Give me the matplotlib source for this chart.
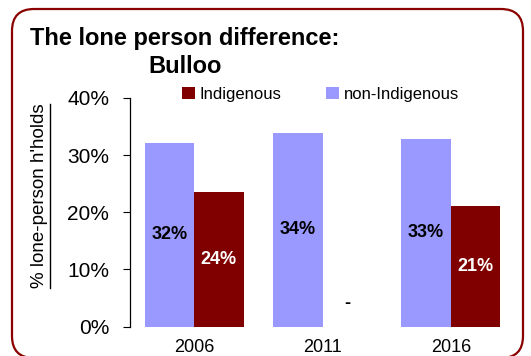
import numpy as np
import matplotlib
matplotlib.use("Agg")
import matplotlib.pyplot as plt
from matplotlib.patches import FancyBboxPatch
from matplotlib.lines import Line2D
from matplotlib.transforms import IdentityTransform

plt.rcParams['font.family'] = ['Liberation Sans', 'DejaVu Sans']

years = ['2006', '2011', '2016']
non_indig = [0.321, 0.339, 0.328]
indig = [0.236, None, 0.211]

c_non = '#9999FF'
c_ind = '#800000'

fig = plt.figure(figsize=(5.31, 3.56), dpi=100)
ax = fig.add_axes([130 / 531, 1 - 326.5 / 356, 385 / 531, 228.5 / 356])

x = np.arange(len(years))
w = 0.386
ax.bar(x - w / 2, non_indig, w, color=c_non, label='non-Indigenous')
ind_vals = [v if v is not None else 0 for v in indig]
ax.bar(x + w / 2, ind_vals, w, color=c_ind, label='Indigenous')

# value labels in the middle of each bar
for i, v in enumerate(non_indig):
    ax.text(x[i] - w / 2, v / 2, '%d%%' % round(v * 100), ha='center', va='center',
            fontsize=13, fontweight='bold', color='black')
for i, v in enumerate(indig):
    if v is None:
        ax.text(x[i] + w / 2, 0.04, '-', ha='center', va='center',
                fontsize=13, fontweight='bold', color='black')
    else:
        ax.text(x[i] + w / 2, v / 2, '%d%%' % round(v * 100), ha='center', va='center',
                fontsize=13, fontweight='bold', color='white')

ax.set_xlim(-0.5, 2.5)
ax.set_ylim(0, 0.40)
ax.set_yticks([0, 0.1, 0.2, 0.3, 0.4])
ax.set_yticklabels(['0%', '10%', '20%', '30%', '40%'], fontsize=15)
ax.set_xticks(x)
ax.set_xticklabels(years, fontsize=13)
ax.tick_params(axis='x', length=0, pad=9)
ax.tick_params(axis='y', length=5, direction='out', pad=10)
for s in ['top', 'right', 'bottom']:
    ax.spines[s].set_visible(False)
ax.spines['left'].set_linewidth(0.9)
ax.set_facecolor('none')

h, l = ax.get_legend_handles_labels()
ax.legend(h[::-1], l[::-1], loc='upper center', bbox_to_anchor=(0.495, 1.1), ncol=2,
          frameon=False, fontsize=12, handlelength=0.75, handleheight=0.75,
          columnspacing=2.7, handletextpad=0.3, borderpad=0.2)

fig.text(30 / 531, 1 - 45 / 356, 'The lone person difference:', fontsize=17,
         fontweight='bold', va='baseline')
fig.text(148 / 531, 1 - 73 / 356, 'Bulloo', fontsize=17, fontweight='bold', va='baseline')

ylab = fig.text(40 / 531, 1 - 196 / 356, "% lone-person h'holds", rotation=90,
                fontsize=13.5, ha='center', va='center')

# rounded frame round the whole chart (pixel coordinates)
frame = FancyBboxPatch((12, -2), 511, 349,
                       boxstyle='round,pad=0,rounding_size=22',
                       transform=IdentityTransform(), facecolor='none',
                       edgecolor='#8B0000', linewidth=1.6)
fig.patches.append(frame)

# underline the axis title
fig.canvas.draw()
bb = ylab.get_window_extent(fig.canvas.get_renderer())
ux = (bb.x1 + 1) / fig.bbox.width
fig.add_artist(Line2D([ux, ux], [bb.y0 / fig.bbox.height, bb.y1 / fig.bbox.height],
                      transform=fig.transFigure, color='black', linewidth=1))

fig.savefig('out.png', dpi=100)
